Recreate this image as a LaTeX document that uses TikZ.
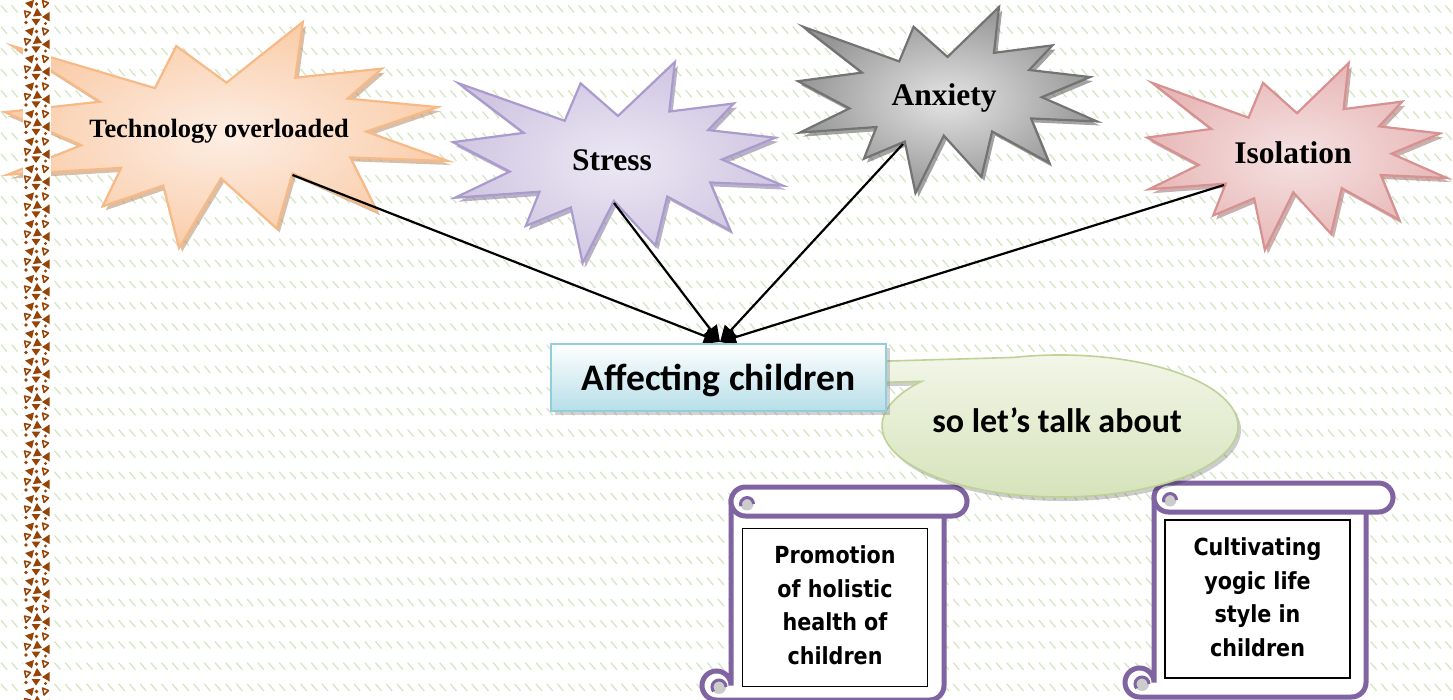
\documentclass[tikz,border=0pt]{standalone}
\usepackage{fontspec}
\setmainfont{Liberation Serif}
\newfontfamily\calib{Carlito}
\newfontfamily\tah[FakeStretch=0.88]{DejaVu Sans}
\usetikzlibrary{arrows.meta,shadows}

\definecolor{bgdash}{RGB}{214,230,196}
\definecolor{brn}{RGB}{150,68,6}
\definecolor{techB}{RGB}{247,186,135}
\definecolor{techIn}{RGB}{253,238,228}
\definecolor{techOut}{RGB}{250,205,170}
\definecolor{stB}{RGB}{170,155,205}
\definecolor{stIn}{RGB}{236,232,244}
\definecolor{stOut}{RGB}{208,198,226}
\definecolor{anB}{RGB}{115,115,115}
\definecolor{anIn}{RGB}{228,228,228}
\definecolor{anOut}{RGB}{150,150,150}
\definecolor{isB}{RGB}{215,145,145}
\definecolor{isIn}{RGB}{246,226,226}
\definecolor{isOut}{RGB}{232,184,184}
\definecolor{boxB}{RGB}{146,205,220}
\definecolor{boxOut}{RGB}{183,222,232}
\definecolor{grB}{RGB}{190,210,150}
\definecolor{grIn}{RGB}{244,247,234}
\definecolor{grOut}{RGB}{212,226,184}
\definecolor{scrollP}{RGB}{128,100,162}

\newcommand\boompath{(108,58) -- (145.22,0) -- (141.55,53.25) -- (183.80,44.57) -- (167.02,73.15) -- (210.97,81.37) -- (176.07,104.75) -- (216,132.90) -- (168.37,129.42) -- (181.45,180.95) -- (140.20,144.57) -- (132.47,197.37) -- (105.32,149.35) -- (84.85,216) -- (77.15,156.27) -- (47.62,176.17) -- (56.67,139.37) -- (1.35,145.87) -- (37.22,117.75) -- (0,86.15) -- (46.27,76.17) -- (3.70,22.95) -- (73.12,63.20) -- (83.52,22.95) -- cycle}

% x0 y0 w h inner outer border
\newcommand\boom[7]{%
\begin{scope}[shift={(#1+3,#2+4)}, xscale=#3/216, yscale=#4/216]
  \fill[#7!75!black, opacity=0.55] \boompath;
\end{scope}
\begin{scope}[shift={(#1,#2)}, xscale=#3/216, yscale=#4/216]
  \draw[draw=#7, line width=2.2pt, inner color=#5, outer color=#6] \boompath;
\end{scope}}

% l t r bodyR b
\newcommand\scrollshape[5]{%
\filldraw[scrollbody] (#1+29,#2+14.5) -- (#1+29,#5-14.5)
  arc[start angle=0, end angle=-270, radius=14.5] -- (#4-14.5,#5)
  arc[start angle=90, end angle=0, radius=14.5] -- (#4,#2+14.5) -- cycle;
\filldraw[scrollbody] (#1+43.5,#2) -- (#3-14.5,#2)
  arc[start angle=-90, end angle=90, radius=14.5] -- (#1+43.5,#2+29)
  arc[start angle=90, end angle=270, radius=14.5] -- cycle;
\fill[gray!40] (#1+45,#2+17) circle (6.5);
\draw[scrollP, line width=3pt] (#1+45,#2+17) ++(6.5,0) arc[start angle=0, end angle=-200, radius=6.5];
\fill[gray!40] (#1+17,#5-13) circle (7);
\draw[scrollP, line width=3pt] (#1+17,#5-13) ++(7,0) arc[start angle=0, end angle=-220, radius=7];
}

\tikzset{
  bgd/.style={draw=bgdash, line width=1.3pt},
  conn/.style={line width=2.2pt, -{Triangle[length=16pt,width=16pt]}},
  boomtext/.style={font=\fontsize{31.5}{34}\selectfont\bfseries, inner sep=0pt},
  affbox/.style={draw=boxB, line width=1.8pt, top color=white, bottom color=boxOut,
     minimum width=335pt, minimum height=67pt, inner sep=0pt,
     drop shadow={shadow xshift=4pt, shadow yshift=-4pt, opacity=0.35}},
  scrollbody/.style={draw=scrollP, line width=5pt, fill=white},
  innerbox/.style={draw=black, line width=1.3pt, fill=white, inner sep=0pt,
     minimum width=185pt, minimum height=158pt},
  scrolltext/.style={align=center, inner sep=0pt,
     font=\tah\fontsize{23.5}{33.5}\selectfont\bfseries},
  stripline/.style={draw=brn, line width=1.5pt, line join=round},
}

\begin{document}
\begin{tikzpicture}[x=1pt,y=-1pt]
\useasboundingbox (0,0) rectangle (1453,700);
\clip (0,0) rectangle (1453,700);
\fill[white] (0,0) rectangle (1453,700);

% background hatch
\foreach \r in {0,...,33} {
  \draw[bgd] \foreach \i in {0,...,136} { ({\i*10.7+1},{9+21.2*\r-3.5}) -- ++(6,7) };
}

% explosions
\boom{5}{22}{443}{226}{techIn}{techOut}{techB}
\boom{453}{62}{330}{201}{stIn}{stOut}{stB}
\boom{798}{7}{299}{186}{anIn}{anOut}{anB}
\boom{1147}{63}{300}{187}{isIn}{isOut}{isB}

\node[font=\fontsize{26.4}{30}\selectfont\bfseries, inner sep=0pt] (tech) at (219,131) {Technology overloaded};
\node[boomtext] (stress) at (612,160) {Stress};
\node[boomtext] (anx) at (944,98) {Anxiety};
\node[boomtext] (iso) at (1293,153) {Isolation};

% connector anchor points
\coordinate (hub) at (720,342);
\coordinate (techv) at (292.5,175);
\coordinate (stv) at (614,203);
\coordinate (anv) at (903,144);
\coordinate (isv) at (1224,185);

\draw[conn] (techv) -- (hub);
\draw[conn] (stv) -- (hub);
\draw[conn] (anv) -- (hub);
\draw[conn] (isv) -- (hub);

% scrolls
\scrollshape{702}{487}{967}{944}{700}
\scrollshape{1125}{483}{1393}{1366}{697}
\node[innerbox] (promo) at (835,607.5) {};
\node[scrolltext] at (835,605) {Promotion\\of holistic\\health of\\children};
\node[innerbox] (yogic) at (1257.5,599) {};
\node[scrolltext] at (1257.5,597) {Cultivating\\yogic life\\style in\\children};

% callout
\coordinate (cc) at (1060,426);
\fill[black, opacity=0.2] ([shift={(3,4)}]cc) ++(255:178 and 71) arc[start angle=255, end angle=579, x radius=178, y radius=71] -- (823,388) -- (823,367) -- cycle;
\draw[draw=grB, line width=1.6pt, top color=grIn, bottom color=grOut] (cc) ++(255:178 and 71) arc[start angle=255, end angle=579, x radius=178, y radius=71] -- (820,384) -- (820,363) -- cycle;
\node[font=\calib\fontsize{34}{38}\selectfont\bfseries, inner sep=0pt] (talk) at (1057,420) {so let’s talk about};

% main box
\node[affbox] (aff) at (718.5,377.5) {};
\node[font=\calib\fontsize{37.5}{40}\selectfont\bfseries, inner sep=0pt] at (718.5,380) {Affecting children};

% left decorative strip
\fill[white] (23,0) rectangle (51,700);
\foreach \k in {0,...,25} {
 \begin{scope}[shift={(23,\k*27.5-2)}]
   \fill[brn] (2,5) -- (11,2) -- (9,10.5) -- cycle;
   \fill[brn] (13.5,6) circle (1.9);
   \draw[stripline] (19.5,2.5) -- (25.5,5) -- (21,9.5) -- cycle;
   \draw[stripline] (1.5,13) -- (7.5,14.5) -- (3,19.5) -- cycle;
   \fill[brn] (10,18.5) -- (19,17.5) -- (14,10) -- cycle;
   \fill[brn] (19,19) -- (26.5,14) -- (26.5,23.5) -- cycle;
   \fill[brn] (3,24.5) circle (1.8);
   \fill[brn] (8.5,21) -- (17.5,21) -- (13,27.5) -- cycle;
   \fill[brn] (22.5,25.5) circle (1.7);
 \end{scope}
}
\end{tikzpicture}
\end{document}
